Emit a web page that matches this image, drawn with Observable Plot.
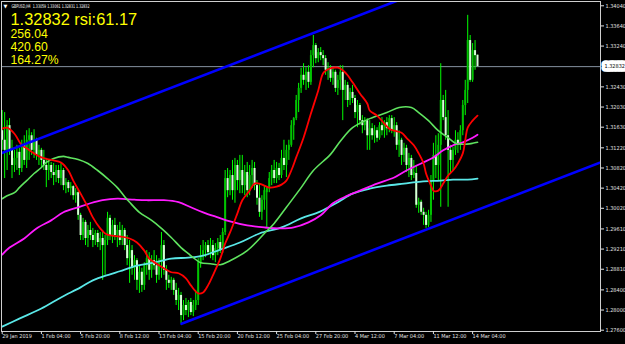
<!DOCTYPE html>
<html><head><meta charset="utf-8">
<script src="https://cdn.jsdelivr.net/npm/d3@7"></script>
<script src="https://cdn.jsdelivr.net/npm/@observablehq/plot@0.6"></script>
<style>
html,body{margin:0;padding:0;background:#000;overflow:hidden}
#chart svg{display:block}
</style></head><body><div id="chart"></div>
<script>
// ---- header texts ----
const symbolLine = "GBPUSD,H4  1.33059 1.33061 1.32831 1.32832";
const infoLines = ["1.32832 rsi:61.17", "256.04", "420.60", "164.27%"];
const lastPrice = 1.32832;

// ---- axes ----
const xTickBars = [0, 16, 32, 48, 64, 80, 96, 112, 128, 144, 160, 176, 192];
const xTickLabels = ["29 Jan 2019", "1 Feb 04:00", "5 Feb 20:00", "8 Feb 12:00", "13 Feb 04:00", "15 Feb 20:00",
  "20 Feb 12:00", "25 Feb 04:00", "27 Feb 20:00", "4 Mar 12:00", "7 Mar 04:00", "11 Mar 12:00", "14 Mar 04:00"];
const yTickValues = [1.34040, 1.33640, 1.33240, 1.32430, 1.32030, 1.31630, 1.31220, 1.30820,
  1.30420, 1.30020, 1.29610, 1.29210, 1.28810, 1.28400, 1.28000, 1.27600];

// ---- H4 candles, prices x 10^4 ----
const open4 = [
13156,13137,13117,13166,13117,13087,13101,13113,13081,13127,
13097,13137,13146,13117,13137,13107,13117,13097,13087,13077,
13087,13073,13067,13077,13061,13077,13047,13053,13041,13045,
13027,13033,12988,12948,12974,12942,12958,12948,12938,12952,
12934,12942,12928,12938,12982,12948,12968,12948,12958,12938,
12958,12928,12902,12918,12883,12898,12859,12875,12849,12888,
12902,12879,12898,12888,12869,12894,12928,12879,12859,12853,
12859,12839,12819,12829,12789,12809,12799,12815,12795,12809,
12819,12894,12908,12918,12928,12914,12928,12908,12922,12934,
12918,12954,13061,13037,13067,13037,13087,13057,13077,13047,
13073,13037,13067,13081,13047,13022,12994,13018,13033,13041,
13061,13077,13061,13081,13067,13101,13087,13117,13127,13166,
13180,13216,13240,13266,13256,13272,13252,13305,13325,13299,
13311,13305,13299,13276,13280,13260,13272,13240,13256,13272,
13236,13246,13216,13232,13220,13192,13206,13176,13166,13176,
13146,13160,13146,13156,13141,13166,13156,13172,13160,13180,
13156,13166,13127,13137,13107,13121,13087,13101,13067,13071,
13008,13014,12994,12988,12968,12988,13057,13107,13087,13127,
13216,13182,13146,13117,13097,13117,13137,13127,13156,13206,
13236,13335,13256,13315,13305.9];
const high4 = [
13196,13192,13176,13180,13137,13117,13127,13121,13137,13146,
13156,13160,13152,13158,13141,13127,13121,13117,13101,13097,
13093,13091,13087,13087,13091,13081,13061,13057,13053,13047,
13041,13037,12992,12982,12978,12968,12974,12962,12958,12958,
12954,12958,12948,12994,12988,12978,12982,12968,12974,12968,
12962,12948,12938,12928,12908,12902,12888,12883,12894,12918,
12914,12908,12918,12908,12902,12954,12938,12888,12869,12865,
12863,12853,12843,12835,12819,12823,12819,12823,12819,12839,
12902,12928,12938,12934,12938,12942,12938,12932,12942,12948,
12962,13077,13081,13077,13097,13101,13097,13107,13107,13087,
13093,13087,13097,13093,13057,13051,13027,13047,13043,13073,
13087,13097,13093,13091,13117,13137,13127,13137,13176,13182,
13226,13250,13280,13289,13281,13285,13315,13345,13329,13319,
13321,13315,13305,13291,13285,13280,13276,13266,13285,13285,
13256,13252,13240,13246,13226,13216,13210,13186,13182,13180,
13176,13170,13166,13162,13172,13182,13176,13182,13186,13186,
13182,13172,13156,13141,13131,13127,13111,13107,13097,13087,
13022,13018,13002,12994,12998,13067,13131,13146,13150,13289,
13226,13236,13196,13127,13123,13156,13152,13166,13216,13256,
13385,13345,13329,13335,13306.1];
const low4 = [
13117,13061,13077,13107,13061,13073,13077,13067,13073,13087,
13081,13097,13107,13101,13097,13087,13083,13077,13043,13057,
13061,13047,13053,13051,13047,13037,13031,13033,13027,13018,
13012,12978,12938,12938,12928,12924,12938,12924,12928,12924,
12918,12859,12869,12928,12938,12932,12938,12924,12928,12928,
12918,12888,12853,12869,12859,12839,12833,12835,12839,12869,
12859,12863,12879,12853,12859,12863,12869,12839,12843,12839,
12829,12809,12799,12773,12779,12789,12785,12789,12787,12799,
12809,12883,12898,12904,12908,12902,12898,12894,12908,12912,
12912,12948,13023,13027,13018,13012,13037,13031,13031,13027,
13023,13027,13041,13037,13008,12984,12978,12998,12964,13033,
13047,13051,13051,13057,13061,13077,13063,13097,13123,13137,
13176,13192,13230,13246,13236,13240,13246,13281,13289,13291,
13295,13285,13266,13256,13252,13246,13232,13226,13236,13176,
13216,13202,13206,13210,13180,13162,13166,13150,13156,13117,
13117,13137,13131,13133,13137,13146,13141,13146,13152,13150,
13143,13117,13103,13087,13093,13073,13063,13057,13061,13002,
12992,12988,12968,12962,12964,12974,13018,13061,13057,13004,
13176,13137,13004,13071,13077,13107,13111,13117,13146,13186,
13210,13252,13252,13276,13283.1];
const close4 = [
13137,13117,13166,13117,13087,13101,13113,13081,13127,13097,
13137,13146,13117,13137,13107,13117,13097,13087,13077,13087,
13073,13067,13077,13061,13077,13047,13053,13041,13045,13027,
13033,12988,12948,12974,12942,12958,12948,12938,12952,12934,
12942,12928,12938,12982,12948,12968,12948,12958,12938,12958,
12928,12902,12918,12883,12898,12859,12875,12849,12888,12902,
12879,12898,12888,12869,12894,12928,12879,12859,12853,12859,
12839,12819,12829,12789,12809,12799,12815,12795,12809,12819,
12894,12908,12918,12928,12914,12928,12908,12922,12934,12918,
12954,13061,13037,13067,13037,13087,13057,13077,13047,13073,
13037,13067,13081,13047,13022,12994,13018,13037,13041,13061,
13077,13061,13081,13067,13101,13087,13117,13127,13166,13180,
13216,13240,13266,13256,13272,13252,13305,13325,13299,13311,
13305,13299,13276,13280,13260,13272,13240,13256,13272,13236,
13246,13216,13232,13220,13192,13206,13176,13166,13176,13146,
13160,13146,13156,13141,13166,13156,13172,13160,13180,13156,
13166,13127,13137,13107,13121,13087,13101,13067,13073,13008,
13014,12994,12988,12968,12988,13057,13107,13087,13127,13216,
13182,13146,13117,13097,13117,13137,13127,13156,13206,13236,
13335,13256,13315,13305,13283.2];

// ---- moving averages (bar index, price x 10^4) ----
const redBars = [0,2,5,8,10,13,16,19,21,24,27,29,32,35,37,40,42,44,48,52,55,58,60,63,66,69,72,75,77,80,82,84,86,89,91,93,96,98,101,103,105,107,109,112,114,116,118,120,123,126,129,131,133,135,137,139,141,143,146,149,150,153,156,158,160,163,165,168,170,172,173,175,176,178,180,182,184,186,188,189,190,192,194];
const redVals = [13160,13162,13150,13127,13121,13111,13103,13099,13097,13093,13077,13057,13031,13004,12984,12962,12952,12948,12946,12942,12934,12918,12902,12892,12883,12875,12873,12863,12849,12833,12835,12849,12869,12902,12932,12954,12992,13018,13037,13051,13051,13047,13043,13045,13049,13057,13077,13103,13142,13190,13236,13270,13278,13281,13281,13276,13266,13252,13230,13210,13196,13186,13170,13160,13156,13152,13142,13127,13111,13091,13071,13047,13037,13037,13051,13067,13077,13091,13111,13137,13162,13176,13186];
const greenBars = [0,2,5,7,10,13,16,18,21,25,27,31,35,39,43,47,50,52,56,61,65,69,73,76,78,81,85,89,93,100,107,111,116,122,127,134,138,143,150,157,162,167,170,174,178,182,185,188,192,194];
const greenVals = [13021,13027,13033,13043,13057,13071,13083,13093,13101,13105,13103,13099,13091,13077,13061,13043,13025,13014,12994,12978,12962,12944,12924,12912,12904,12894,12892,12890,12898,12918,12952,12972,13004,13043,13077,13109,13135,13162,13180,13192,13202,13202,13192,13176,13156,13142,13131,13129,13131,13133];
const magentaBars = [0,3,9,14,20,25,31,36,41,47,54,59,66,72,77,82,88,93,100,107,114,119,125,130,135,141,146,153,160,165,171,176,180,184,188,192,194];
const magentaVals = [12910,12924,12942,12962,12978,12994,13004,13012,13018,13021,13019,13018,13018,13014,13004,12994,12984,12976,12968,12964,12962,12964,12974,12988,13012,13027,13037,13051,13063,13077,13091,13103,13117,13127,13133,13142,13148];
const cyanBars = [0,7,16,24,32,37,44,48,55,62,69,76,82,89,97,105,114,122,130,137,143,150,157,164,171,179,184,190,194];
const cyanVals = [12767,12783,12803,12825,12845,12859,12871,12877,12888,12894,12902,12904,12908,12920,12934,12952,12964,12982,12996,13014,13031,13041,13047,13051,13055,13057,13059,13059,13061];

// ---- channel trend lines (bar index, price) ----
const channelUpper = [[-1, 1.31102], [250, 1.35803]];
const channelLower = [[73.2, 1.27727], [250, 1.31038]];

// ---- build tables ----
const bars = open4.map((o, i) => ({i, o: o / 1e4, h: high4[i] / 1e4, l: low4[i] / 1e4, c: close4[i] / 1e4}));
const bull = bars.filter(d => d.c >= d.o);
const bear = bars.filter(d => d.c < d.o);
const ma = (idx, vals) => idx.map((b, k) => ({i: b, p: vals[k] / 1e4}));
const fmt5 = d3.format(".5f");
const yellow = "#ffff00";
const big = "'Liberation Sans', Arial, sans-serif";

const svg = Plot.plot({
  width: 625, height: 344,
  marginLeft: 1, marginRight: 25, marginTop: 1, marginBottom: 13,
  style: {background: "#000", color: "#e2e2e2", fontFamily: "'Liberation Sans Narrow','DejaVu Sans Condensed','Liberation Sans',sans-serif", fontSize: "5.5px", overflow: "hidden"},
  x: {domain: [-0.286, 244.2], axis: null, label: null},
  y: {domain: [1.27574, 1.34125], axis: null, label: null},
  marks: [
    Plot.ruleY([lastPrice], {stroke: "#8592a0", strokeWidth: 1}),
    Plot.ruleX(bars, {x: "i", y1: "l", y2: "h", stroke: "#00ff00", strokeWidth: 1}),
    Plot.ruleX(bull, {x: "i", y1: "o", y2: "c", stroke: "#00c400", strokeWidth: 2}),
    Plot.ruleX(bear, {x: "i", y1: "o", y2: "c", stroke: "#d8ffd8", strokeWidth: 2}),
    Plot.line(ma(cyanBars, cyanVals), {x: "i", y: "p", stroke: "#5ae8e8", strokeWidth: 1.8, curve: "catmull-rom"}),
    Plot.line(ma(magentaBars, magentaVals), {x: "i", y: "p", stroke: "#ff1aff", strokeWidth: 1.8, curve: "catmull-rom"}),
    Plot.line(ma(greenBars, greenVals), {x: "i", y: "p", stroke: "#5fe35f", strokeWidth: 1.6, curve: "catmull-rom"}),
    Plot.line(ma(redBars, redVals), {x: "i", y: "p", stroke: "#ff0000", strokeWidth: 1.8, curve: "catmull-rom"}),
    Plot.line(channelUpper, {x: d => d[0], y: d => d[1], stroke: "#0000ff", strokeWidth: 2.6, clip: true}),
    Plot.line(channelLower, {x: d => d[0], y: d => d[1], stroke: "#0000ff", strokeWidth: 2.6, clip: true}),
    Plot.frame({stroke: "#cfcfcf"}),
    Plot.axisX({ticks: xTickBars, tickFormat: d => xTickLabels[xTickBars.indexOf(d)], anchor: "bottom", label: null,
      tickSize: 3, tickPadding: 0, textAnchor: "start", fontSize: 5.5}),
    Plot.axisY({ticks: yTickValues, anchor: "right", label: null, tickSize: 3, tickPadding: 2, tickFormat: fmt5, fontSize: 5.5}),
    Plot.text([lastPrice], {y: d => d, frameAnchor: "right", dx: 4, textAnchor: "start", text: d => fmt5(d),
      fill: "#000", stroke: "#ffffff", strokeWidth: 7.5, strokeLinejoin: "round", fontSize: 5.5}),
    Plot.text(["▼"], {frameAnchor: "top-left", text: d => d, dx: 2, dy: 3, lineAnchor: "top", textAnchor: "start", fill: "#fff", fontSize: 5, fontFamily: "'DejaVu Sans', sans-serif"}),
    Plot.text([symbolLine], {frameAnchor: "top-left", text: d => d, dx: 10, dy: 3, lineAnchor: "top", textAnchor: "start", fill: "#fff", fontSize: 5.2}),
    Plot.text([infoLines[0]], {frameAnchor: "top-left", text: d => d, dx: 9, dy: 11.7, lineAnchor: "top", textAnchor: "start", fill: yellow, fontSize: 16.4, fontFamily: big}),
    Plot.text([infoLines[1]], {frameAnchor: "top-left", text: d => d, dx: 9, dy: 28.3, lineAnchor: "top", textAnchor: "start", fill: yellow, fontSize: 12.2, fontFamily: big}),
    Plot.text([infoLines[2]], {frameAnchor: "top-left", text: d => d, dx: 9, dy: 40.9, lineAnchor: "top", textAnchor: "start", fill: yellow, fontSize: 12.2, fontFamily: big}),
    Plot.text([infoLines[3]], {frameAnchor: "top-left", text: d => d, dx: 9, dy: 53.4, lineAnchor: "top", textAnchor: "start", fill: yellow, fontSize: 12.2, fontFamily: big})
  ]
});
document.getElementById("chart").append(svg);
d3.select(svg).selectAll("text")
  .filter(function () { return this.textContent === symbolLine; })
  .attr("textLength", 78).attr("lengthAdjust", "spacingAndGlyphs");
</script>
</body></html>
